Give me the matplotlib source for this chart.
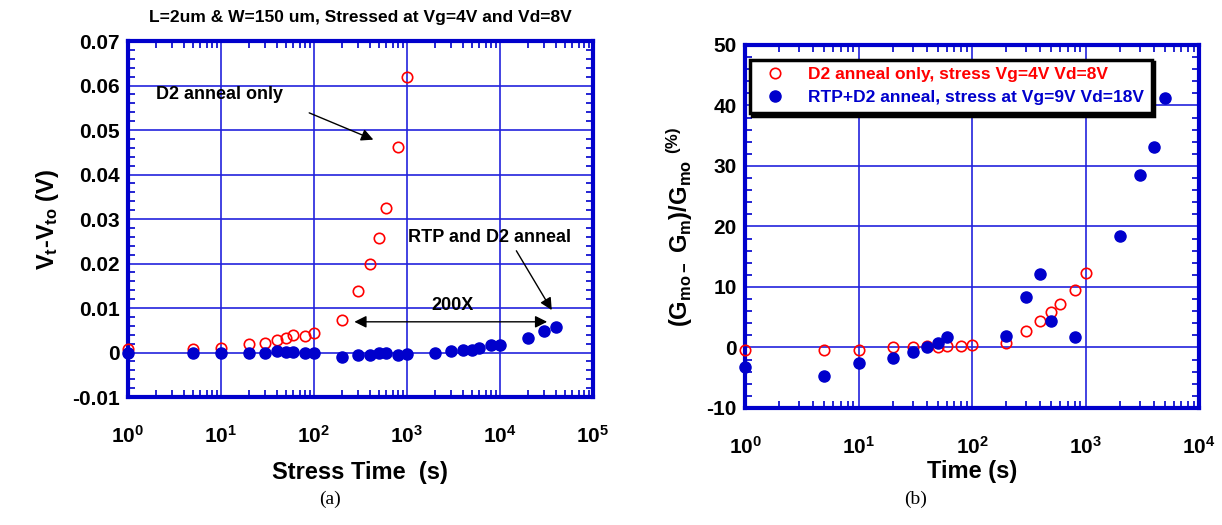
import numpy as np
import matplotlib
matplotlib.use('Agg')
import matplotlib.pyplot as plt
from matplotlib.ticker import MultipleLocator, LogLocator, NullFormatter

plt.rcParams['font.family'] = ['Liberation Sans', 'DejaVu Sans']
plt.rcParams['font.weight'] = 'bold'
plt.rcParams['axes.unicode_minus'] = False
plt.rcParams['mathtext.fontset'] = 'custom'
plt.rcParams['mathtext.rm'] = 'Liberation Sans:bold'
plt.rcParams['mathtext.bf'] = 'Liberation Sans:bold'
plt.rcParams['mathtext.it'] = 'Liberation Sans:bold'
plt.rcParams['mathtext.default'] = 'bf'

# (a) threshold voltage shift vs stress time
t_d2 = [1, 5, 10, 20, 30, 40, 50, 60, 80, 100, 200, 300, 400, 500, 600, 800, 1000]
dvt_d2 = [0.0008, 0.0009, 0.001, 0.0019, 0.0022, 0.0028, 0.0033, 0.004, 0.0037, 0.0043,
          0.0073, 0.0138, 0.020, 0.0257, 0.0325, 0.0461, 0.0619]
t_rtp = [1, 5, 10, 20, 30, 40, 50, 60, 80, 100, 200, 300, 400, 500, 600, 800, 1000,
         2000, 3000, 4000, 5000, 6000, 8000, 10000, 20000, 30000, 40000]
dvt_rtp = [0, -0.0001, 0, 0, 0, 0.0003, 0.0001, 0.0001, 0, 0, -0.001, -0.0005, -0.0005,
           -0.0002, -0.0002, -0.0005, -0.0003, 0, 0.0003, 0.0005, 0.0006, 0.001, 0.0016,
           0.0018, 0.0033, 0.0048, 0.0057]

# (b) transconductance degradation vs time
tb_d2 = [1, 5, 10, 20, 30, 40, 50, 60, 80, 100, 200, 300, 400, 500, 600, 800, 1000]
gm_d2 = [-0.45, -0.45, -0.45, 0.1, 0.1, 0.3, 0.1, 0.3, 0.3, 0.45, 0.8, 2.7, 4.4, 5.8,
         7.2, 9.5, 12.3]
tb_rtp = [1, 5, 10, 20, 30, 40, 50, 60, 200, 300, 400, 500, 800, 2000, 3000, 4000, 5000]
gm_rtp = [-3.3, -4.7, -2.6, -1.8, -0.8, 0, 0.8, 1.65, 1.9, 8.4, 12.1, 4.35, 1.8, 18.4,
          28.5, 33.1, 41.2]

blue = '#0000cc'
grid_blue = '#2222dd'
red = '#ff0000'

fig = plt.figure(figsize=(12.22, 5.25), dpi=100)
ax1 = fig.add_axes([0.1047, 0.2438, 0.3805, 0.678])
ax2 = fig.add_axes([0.6097, 0.2229, 0.3715, 0.6914])


def style(ax):
    ax.set_xscale('log')
    ax.grid(True, which='major', color=grid_blue, linewidth=1.2)
    for s in ax.spines.values():
        s.set_color(blue)
        s.set_linewidth(3)
    ax.xaxis.set_minor_locator(LogLocator(base=10, subs=np.arange(2, 10)))
    ax.xaxis.set_minor_formatter(NullFormatter())
    ax.tick_params(which='both', direction='in', top=True, right=True, color=blue,
                   labelsize=15, width=1.2)
    ax.tick_params(which='major', length=0)
    ax.tick_params(which='minor', length=5)
    ax.tick_params(axis='x', pad=20)
    ax.tick_params(axis='y', pad=6)
    ax.set_axisbelow(True)


style(ax1)
ax1.plot(t_d2, dvt_d2, 'o', mfc='none', mec=red, ms=7.5, mew=1.2, clip_on=False, zorder=3)
ax1.plot(t_rtp, dvt_rtp, 'o', color=blue, ms=8, clip_on=False, zorder=4)
ax1.set_xlim(1, 1e5)
ax1.set_ylim(-0.01, 0.07)
ax1.yaxis.set_minor_locator(MultipleLocator(0.002))
ax1.set_yticks(np.arange(-0.01, 0.0701, 0.01))
ax1.set_yticklabels(['-0.01', '0', '0.01', '0.02', '0.03', '0.04', '0.05', '0.06', '0.07'])
ax1.set_xlabel('Stress Time  (s)', fontsize=17, fontweight='bold', labelpad=10)
ax1.set_ylabel(r'V$_{t}$-V$_{to}$ (V)', fontsize=17, fontweight='bold', labelpad=8)
ax1.set_title('L=2um & W=150 um, Stressed at Vg=4V and Vd=8V', fontsize=12.5,
              fontweight='bold', pad=14)

ax1.text(9.75, 0.058, 'D2 anneal only', fontsize=13, fontweight='bold', ha='center', va='center')
ax1.annotate('', xy=(464, 0.0476), xytext=(83.5, 0.0541),
             arrowprops=dict(arrowstyle='-|>', color='black', lw=1, mutation_scale=18))
ax1.text(7800, 0.0258, 'RTP and D2 anneal', fontsize=13, fontweight='bold', ha='center', va='center')
ax1.annotate('', xy=(37400, 0.009), xytext=(14500, 0.0234),
             arrowprops=dict(arrowstyle='-|>', color='black', lw=1, mutation_scale=18))
ax1.text(3125, 0.0105, '200X', fontsize=13, fontweight='bold', ha='center', va='center')
ax1.annotate('', xy=(34500, 0.0069), xytext=(254, 0.0069),
             arrowprops=dict(arrowstyle='<|-|>', color='black', lw=1, mutation_scale=18))

style(ax2)
l1, = ax2.plot(tb_d2, gm_d2, 'o', mfc='none', mec=red, ms=7.5, mew=1.2, clip_on=False, zorder=3)
l2, = ax2.plot(tb_rtp, gm_rtp, 'o', color=blue, ms=8, clip_on=False, zorder=4)
ax2.set_xlim(1, 1e4)
ax2.set_ylim(-10, 50)
ax2.yaxis.set_major_locator(MultipleLocator(10))
ax2.yaxis.set_minor_locator(MultipleLocator(2))
ax2.set_xlabel('Time (s)', fontsize=17, fontweight='bold', labelpad=2)
ax2.set_ylabel(r'(G$_{mo-}$ G$_{m}$)/G$_{mo}$ $^{(\%)}$', fontsize=17, fontweight='bold', labelpad=8)

leg = ax2.legend([l1, l2], ['D2 anneal only, stress Vg=4V Vd=8V',
                            'RTP+D2 anneal, stress at Vg=9V Vd=18V'],
                 loc='upper left', bbox_to_anchor=(0.01, 0.96),
                 prop={'weight': 'bold', 'size': 12.5}, fancybox=False,
                 shadow={'color': 'black', 'alpha': 1}, framealpha=1, edgecolor='black',
                 handletextpad=0.9, borderpad=0.45, labelspacing=0.45, borderaxespad=0)
leg.get_frame().set_linewidth(2.5)
for txt, c in zip(leg.get_texts(), [red, blue]):
    txt.set_color(c)

fig.text(0.27, 0.04, '(a)', fontsize=14, family='Liberation Serif', fontweight='normal', ha='center')
fig.text(0.749, 0.04, '(b)', fontsize=14, family='Liberation Serif', fontweight='normal', ha='center')

fig.savefig('out.png', dpi=100)
